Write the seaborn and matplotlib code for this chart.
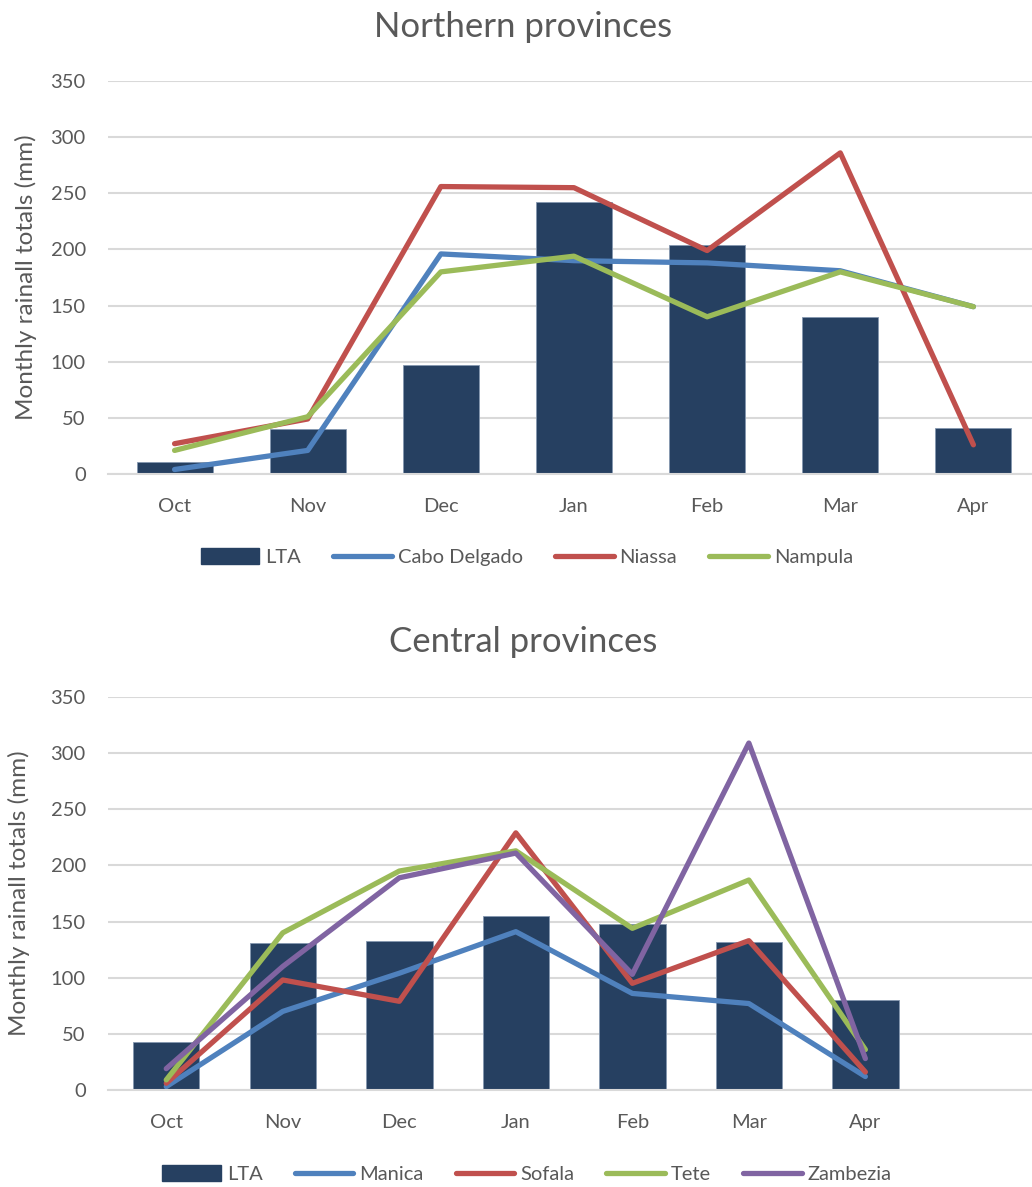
import numpy as np
import pandas as pd
import matplotlib
matplotlib.use("Agg")
import matplotlib.pyplot as plt
from matplotlib.patches import Patch
from matplotlib.lines import Line2D
import seaborn as sns

months = ["Oct", "Nov", "Dec", "Jan", "Feb", "Mar", "Apr"]

# Northern provinces (mm)
north_lta = [11, 40, 97, 242, 204, 140, 41]
cabo_delgado = [4, 21, 196, 190, 188, 181, 149]
niassa = [27, 49, 256, 255, 199, 286, 26]
nampula = [21, 51, 180, 194, 140, 180, 149]

# Central provinces (mm)
central_lta = [43, 131, 133, 155, 148, 132, 80]
manica = [3, 70, 104, 141, 86, 77, 12]
sofala = [6, 98, 79, 229, 95, 133, 16]
tete = [9, 140, 195, 213, 144, 187, 36]
zambezia = [19, 110, 189, 211, 103, 309, 28]

BAR = "#264061"
BLUE, RED, GREEN, PURPLE = "#4F81BD", "#C0504D", "#9BBB59", "#8064A2"
GRID = "#D9D9D9"
TXT = "#595959"

sns.set_theme(style="white")
plt.rcParams["font.family"] = ["Lato", "DejaVu Sans"]

W, H = 1032, 1187
fig = plt.figure(figsize=(W / 100, H / 100), dpi=100)


def panel(top_px, bottom_px, right_lim, lta, series, colors, title, title_y, label_x, leg_y):
    ax = fig.add_axes([108 / W, 1 - bottom_px / H, (W - 108) / W, (bottom_px - top_px) / H])
    bars = pd.DataFrame({"month": months, "value": lta})
    sns.barplot(data=bars, x="month", y="value", order=months, color=BAR,
                width=0.57, saturation=1, ax=ax, edgecolor="#8497B0", linewidth=0.6)
    long = pd.DataFrame(
        [(name, m, v) for name, vals in series.items() for m, v in zip(months, vals)],
        columns=["region", "month", "value"],
    )
    sns.pointplot(data=long, x="month", y="value", hue="region", order=months,
                  hue_order=list(series), palette=colors, errorbar=None,
                  markersize=0, linewidth=3.8, ax=ax, legend=False,
                  solid_capstyle="round", solid_joinstyle="round")
    ax.set_ylim(0, 350)
    ax.set_yticks(np.arange(0, 351, 50))
    ax.set_xlim(-0.5, right_lim)
    ax.grid(axis="y", color=GRID, linewidth=1.5)
    ax.set_axisbelow(True)
    for s in ["top", "right", "left"]:
        ax.spines[s].set_visible(False)
    ax.spines["bottom"].set_color(GRID)
    ax.spines["bottom"].set_linewidth(1.5)
    ax.tick_params(axis="both", length=0, labelsize=14.5, labelcolor=TXT)
    ax.tick_params(axis="y", pad=16)
    ax.tick_params(axis="x", pad=17)
    ax.set_xlabel("")
    ax.set_ylabel("")
    mid = 1 - (top_px + bottom_px) / 2 / H
    fig.text(label_x / W, mid, "Monthly rainall totals (mm)", rotation=90,
             ha="center", va="center", fontsize=17.5, color=TXT)
    fig.text(523 / W, 1 - title_y / H, title, ha="center", va="center",
             fontsize=25, color=TXT)
    handles = [Patch(facecolor=BAR, edgecolor=BAR, label="LTA")]
    for (name, _), c in zip(series.items(), colors):
        handles.append(Line2D([0], [0], color=c, lw=3.8, solid_capstyle="round", label=name))
    fig.legend(handles=handles, loc="center", bbox_to_anchor=(527 / W, 1 - leg_y / H),
               ncol=len(handles), frameon=False, fontsize=14.5, handlelength=2.9,
               handleheight=0.8, handletextpad=0.3, columnspacing=1.6, labelcolor=TXT)
    return ax


panel(81, 474, 6.44, north_lta,
      {"Cabo Delgado": cabo_delgado, "Niassa": niassa, "Nampula": nampula},
      [BLUE, RED, GREEN], "Northern provinces", 27, 26, 557)

panel(697, 1090, 7.43, central_lta,
      {"Manica": manica, "Sofala": sofala, "Tete": tete, "Zambezia": zambezia},
      [BLUE, RED, GREEN, PURPLE], "Central provinces", 642, 19, 1174)

fig.savefig("out.png", dpi=100)
